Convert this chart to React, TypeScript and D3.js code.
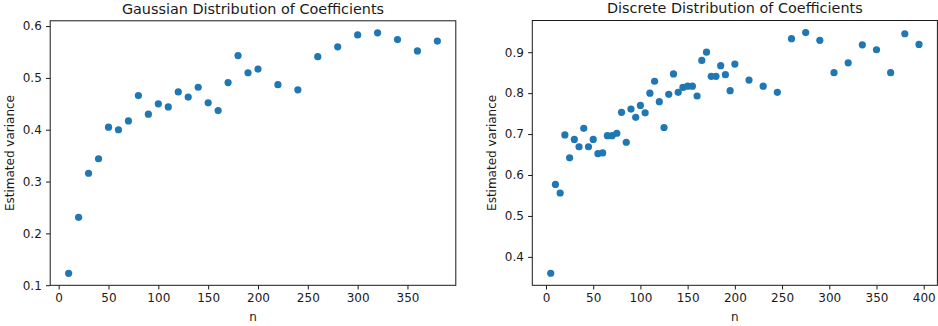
import React, { useEffect, useRef } from 'react';
import * as d3 from 'd3';

// gaussian coefficients
const gaussN = [10, 20, 30, 40, 50, 60, 70, 80, 90, 100, 110, 120, 130, 140, 150, 160, 170, 180, 190, 200,
	220, 240, 260, 280, 300, 320, 340, 360, 380];
const gaussVar = [0.123, 0.231, 0.316, 0.344, 0.405, 0.400, 0.417, 0.466, 0.430, 0.450, 0.444, 0.473, 0.463, 0.482,
	0.452, 0.437, 0.491, 0.543, 0.510, 0.517, 0.487, 0.477, 0.541, 0.560, 0.583, 0.587, 0.574, 0.552, 0.571];

// discrete coefficients
const discN = [5, 10, 15, 20, 25, 30, 35, 40, 45, 50, 55, 60, 65, 70, 75, 80, 85, 90, 95, 100,
	105, 110, 115, 120, 125, 130, 135, 140, 145, 150, 155, 160, 165, 170, 175, 180, 185, 190, 195, 200,
	215, 230, 245, 260, 275, 290, 305, 320, 335, 350, 365, 380, 395];
const discVar = [0.360, 0.577, 0.556, 0.698, 0.642, 0.687, 0.669, 0.714, 0.669, 0.687, 0.652, 0.654, 0.696, 0.696,
	0.702, 0.753, 0.680, 0.761, 0.741, 0.770, 0.752, 0.800, 0.829, 0.779, 0.716, 0.797, 0.847, 0.802, 0.814, 0.817,
	0.817, 0.793, 0.880, 0.900, 0.841, 0.841, 0.867, 0.845, 0.806, 0.871, 0.832, 0.817, 0.802, 0.933, 0.948, 0.929,
	0.850, 0.874, 0.918, 0.906, 0.850, 0.945, 0.919];

const gaussXTicks = [0, 50, 100, 150, 200, 250, 300, 350];
const gaussYTicks = [0.1, 0.2, 0.3, 0.4, 0.5, 0.6];
const discXTicks = [0, 50, 100, 150, 200, 250, 300, 350, 400];
const discYTicks = [0.4, 0.5, 0.6, 0.7, 0.8, 0.9];

const FONT = 'DejaVu Sans, sans-serif';
const INK = '#1a1a1a';

// matplotlib style 5% margins
const padded = (vals) => {
	let lo = d3.min(vals), hi = d3.max(vals);
	let m = (hi - lo) * 0.05;
	return [lo - m, hi + m];
};

const drawPanel = (svg, box, title, xs, ys, xTicks, yTicks) => {
	let x = d3.scaleLinear().domain(padded(xs)).range([box.left, box.right]);
	let y = d3.scaleLinear().domain(padded(ys)).range([box.bottom, box.top]);

	let xAxis = d3.axisBottom(x).tickValues(xTicks).tickSizeInner(4.2).tickSizeOuter(0).tickPadding(4.2)
		.tickFormat(d3.format('d'));
	let yAxis = d3.axisLeft(y).tickValues(yTicks).tickSizeInner(4.2).tickSizeOuter(0).tickPadding(4.2)
		.tickFormat(d3.format('.1f'));

	let gx = svg.append('g').attr('transform', `translate(0,${box.bottom})`).call(xAxis);
	let gy = svg.append('g').attr('transform', `translate(${box.left},0)`).call(yAxis);
	[gx, gy].forEach(g => {
		g.select('.domain').remove();
		g.selectAll('line').attr('stroke', INK).attr('stroke-width', 1);
		g.selectAll('text').attr('font-family', FONT).attr('font-size', 12).attr('fill', INK);
	});

	svg.append('g').selectAll('circle')
		.data(xs.map((d, i) => [d, ys[i]]))
		.enter()
		.append('circle')
		.attr('cx', d => x(d[0]))
		.attr('cy', d => y(d[1]))
		.attr('r', 3.6)
		.attr('fill', '#1f77b4');

	svg.append('rect')
		.attr('x', box.left).attr('y', box.top)
		.attr('width', box.right - box.left).attr('height', box.bottom - box.top)
		.attr('fill', 'none').attr('stroke', INK).attr('stroke-width', 1);

	svg.append('text')
		.text(title)
		.attr('x', (box.left + box.right) / 2).attr('y', box.top - 7.2)
		.attr('text-anchor', 'middle')
		.attr('font-family', FONT).attr('font-size', 14.4).attr('fill', INK);

	svg.append('text')
		.text('n')
		.attr('x', (box.left + box.right) / 2).attr('y', 320.5)
		.attr('text-anchor', 'middle')
		.attr('font-family', FONT).attr('font-size', 12).attr('fill', INK);

	svg.append('text')
		.text('Estimated variance')
		.attr('transform', `translate(${box.left - 36},${(box.top + box.bottom) / 2}) rotate(-90)`)
		.attr('text-anchor', 'middle')
		.attr('font-family', FONT).attr('font-size', 12).attr('fill', INK);
};

const App = () => {
	const ref = useRef(null);

	useEffect(() => {
		let svg = d3.select(ref.current);
		svg.selectAll('*').remove();
		drawPanel(svg, { left: 50.2, right: 455.8, top: 20.8, bottom: 285.3 },
			'Gaussian Distribution of Coefficients', gaussN, gaussVar, gaussXTicks, gaussYTicks);
		drawPanel(svg, { left: 532.3, right: 937.4, top: 20.5, bottom: 285.3 },
			'Discrete Distribution of Coefficients', discN, discVar, discXTicks, discYTicks);
	}, []);

	return (
		<svg ref={ref} width={938} height={326}
			style={{ position: 'absolute', left: 0, top: 0, background: '#fff' }} />
	);
};

export default App;
